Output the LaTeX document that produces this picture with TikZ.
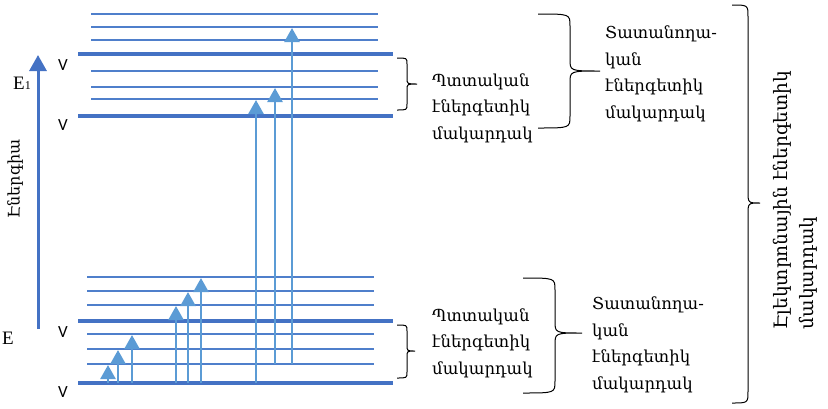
\documentclass[tikz,border=0pt]{standalone}
\usepackage{fontspec}
\setmainfont{Liberation Serif}
\newfontfamily\armfont{DejaVu Serif}
\newfontfamily\vfont{Carlito}
\usetikzlibrary{arrows.meta}
\definecolor{thickc}{HTML}{4472C4}
\definecolor{thinc}{HTML}{4F7FCB}
\definecolor{arrc}{HTML}{5B9BD5}
\newcommand\mybrace[7]{% x-ends, x-vertical, x-tip, y-top, y-bottom, y-mid, radius
  \draw[bracestyle] (#1,#4) .. controls (#2,#4) .. (#2,#4+#7) -- (#2,#6-#7)
    .. controls (#2,#6) .. (#3,#6) .. controls (#2,#6) .. (#2,#6+#7) -- (#2,#5-#7)
    .. controls (#2,#5) .. (#1,#5);}
\begin{document}
\begin{tikzpicture}[x=1pt,y=-1pt,
  thickline/.style={draw=thickc,line width=4pt},
  thinline/.style={draw=thinc,line width=1.5pt},
  transarrow/.style={draw=arrc,line width=2.6pt,-{Triangle[width=15pt,length=14pt]}},
  bracestyle/.style={draw=black,line width=1pt},
  armtext/.style={font=\armfont\fontsize{16.5}{26.5}\selectfont,align=left,inner sep=0pt},
  vlabel/.style={font=\vfont\fontsize{17}{17}\selectfont,inner sep=0pt},
  elabel/.style={font=\fontsize{19}{19}\selectfont,inner sep=0pt}]
\useasboundingbox (0,0) rectangle (828,408);
% upper electronic level
\foreach \y in {14,27,40,71,87,99} \draw[thinline] (91,\y) -- (378,\y);
\foreach \y in {54,116} \draw[thickline] (78,\y) -- (393,\y);
% lower electronic level
\foreach \y in {277,291,305,334,349,364} \draw[thinline] (87,\y) -- (374,\y);
\foreach \y in {321,383} \draw[thickline] (78,\y) -- (393,\y);
% energy axis
\coordinate (axs) at (38,329);
\coordinate (axe) at (38,55);
\draw[draw=thickc,line width=3pt,-{Triangle[width=17pt,length=16pt]}] (axs) -- (axe);
\node[armtext,rotate=90,font=\armfont\fontsize{16}{16}\selectfont] (en) at (15,179) {Էներգիա};
\node[elabel] (e1) at (22,83) {E{\fontsize{12}{12}\selectfont 1}};
\node[elabel] (e0) at (8,338) {E};
\node[vlabel] (v1) at (63,65) {V};
\node[vlabel] (v2) at (63,125) {V};
\node[vlabel] (v3) at (63,332) {V};
\node[vlabel] (v4) at (63,392) {V};
% transitions
\foreach \n/\x/\ys/\ye in {a/108/383/365, b/118/383/350, c/132/383/335,
  d/176/383/306, e/188/383/292, f/201/383/278,
  g/256/383/100, h/275/364/88, i/292/364/28} {
  \coordinate (\n s) at (\x,\ys);
  \coordinate (\n e) at (\x,\ye);
  \draw[transarrow] (\n s) -- (\n e);
}
% braces
\mybrace{397}{407}{417}{58}{110}{84}{6}
\mybrace{397}{407}{415}{325}{378}{351}{6}
\mybrace{538}{570}{600}{14}{128}{71}{12}
\mybrace{523}{555}{582}{278}{393}{333}{12}
\mybrace{732}{748}{760}{5}{403}{203}{12}
% texts
\node[armtext,anchor=west] (rot1) at (432,108) {Պտտական\\էներգետիկ\\մակարդակ};
\node[armtext,anchor=west] (vib1) at (605,74) {Տատանողա-\\կան\\էներգետիկ\\մակարդակ};
\node[armtext,anchor=west] (rot2) at (432,343) {Պտտական\\էներգետիկ\\մակարդակ};
\node[armtext,anchor=west] (vib2) at (592,345) {Տատանողա-\\կան\\էներգետիկ\\մակարդակ};
\node[armtext,rotate=90,font=\armfont\fontsize{18.5}{26}\selectfont] (el) at (795,200) {Էլեկտրոնային էներգետիկ\\մակարդակ};
\end{tikzpicture}
\end{document}
